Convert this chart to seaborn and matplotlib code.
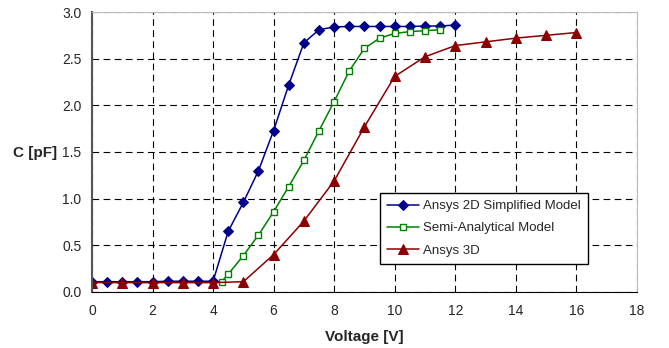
import matplotlib
matplotlib.use("Agg")
import matplotlib.pyplot as plt
import seaborn as sns
import pandas as pd

v_2d = [0, 0.5, 1, 1.5, 2, 2.5, 3, 3.5, 4, 4.5, 5, 5.5, 6, 6.5, 7, 7.5, 8, 8.5, 9, 9.5, 10, 10.5, 11, 11.5, 12]
c_2d = [0.11, 0.11, 0.11, 0.11, 0.11, 0.115, 0.115, 0.115, 0.115, 0.65, 0.96, 1.30, 1.73, 2.22, 2.67,
        2.81, 2.84, 2.845, 2.845, 2.845, 2.845, 2.845, 2.85, 2.85, 2.86]

v_sa = [4.28, 4.5, 5, 5.5, 6, 6.5, 7, 7.5, 8, 8.5, 9, 9.5, 10, 10.5, 11, 11.5]
c_sa = [0.11, 0.19, 0.39, 0.61, 0.86, 1.13, 1.41, 1.73, 2.04, 2.37, 2.61, 2.72, 2.77, 2.79, 2.80, 2.81]

v_3d = [0, 1, 2, 3, 4, 5, 6, 7, 8, 9, 10, 11, 12, 13, 14, 15, 16]
c_3d = [0.10, 0.10, 0.10, 0.10, 0.10, 0.11, 0.40, 0.76, 1.19, 1.77, 2.31, 2.52, 2.64, 2.68, 2.72, 2.75, 2.78]

labels = ["Ansys 2D Simplified Model", "Semi-Analytical Model", "Ansys 3D"]
colors = ["#00008B", "#008000", "#8B0000"]

sns.set_style("white")
plt.rcParams['font.family'] = ['Liberation Sans', 'DejaVu Sans']

fig = plt.figure(figsize=(6.69, 3.48), dpi=100)
ax = fig.add_axes([0.1375, 0.161, 0.8145, 0.8045])

sns.lineplot(x=v_2d, y=c_2d, ax=ax, color=colors[0], marker="D", markersize=5,
             markeredgecolor=colors[0], linewidth=1.1, label=labels[0], sort=False)
sns.lineplot(x=v_sa, y=c_sa, ax=ax, color=colors[1], marker="s", markersize=4.5,
             markerfacecolor="white", markeredgecolor=colors[1], markeredgewidth=1.0,
             linewidth=1.1, label=labels[1], sort=False)
sns.lineplot(x=v_3d, y=c_3d, ax=ax, color=colors[2], marker="^", markersize=6.5,
             markeredgecolor=colors[2], linewidth=1.1, label=labels[2], sort=False)

ax.set_xlim(0, 18)
ax.set_ylim(0, 3.0)
ax.set_xticks(range(0, 19, 2))
ax.set_yticks([0, 0.5, 1.0, 1.5, 2.0, 2.5, 3.0])
ax.set_yticklabels([f"{t:.1f}" for t in [0, 0.5, 1.0, 1.5, 2.0, 2.5, 3.0]])
ax.grid(True, color="black", linestyle=(0, (6, 4)), linewidth=0.8)
ax.set_axisbelow(True)

ax.spines["bottom"].set_color("black")
ax.spines["left"].set_color("#555555")
ax.spines["left"].set_linewidth(1.5)
ax.spines["top"].set_color("#bbbbbb")
ax.spines["right"].set_color("#bbbbbb")
ax.tick_params(axis="x", direction="inout", length=6, width=1, labelsize=10, pad=6)
ax.tick_params(axis="y", direction="out", length=4, width=1, labelsize=10)

ax.set_xlabel("Voltage [V]", fontsize=11, fontweight="bold", labelpad=8)
ax.set_ylabel("C [pF]", fontsize=11, fontweight="bold", rotation=0, ha="right", va="center")
ax.yaxis.set_label_coords(-0.064, 0.496)

leg = ax.legend(loc="upper left", bbox_to_anchor=(0.528, 0.354), frameon=True, fancybox=False,
                edgecolor="black", fontsize=9.5, handlelength=2.4, borderpad=0.55,
                labelspacing=0.75, handletextpad=0.3, borderaxespad=0)
leg.get_frame().set_linewidth(1.0)
leg.get_frame().set_alpha(1)

fig.savefig("out.png", dpi=100)
